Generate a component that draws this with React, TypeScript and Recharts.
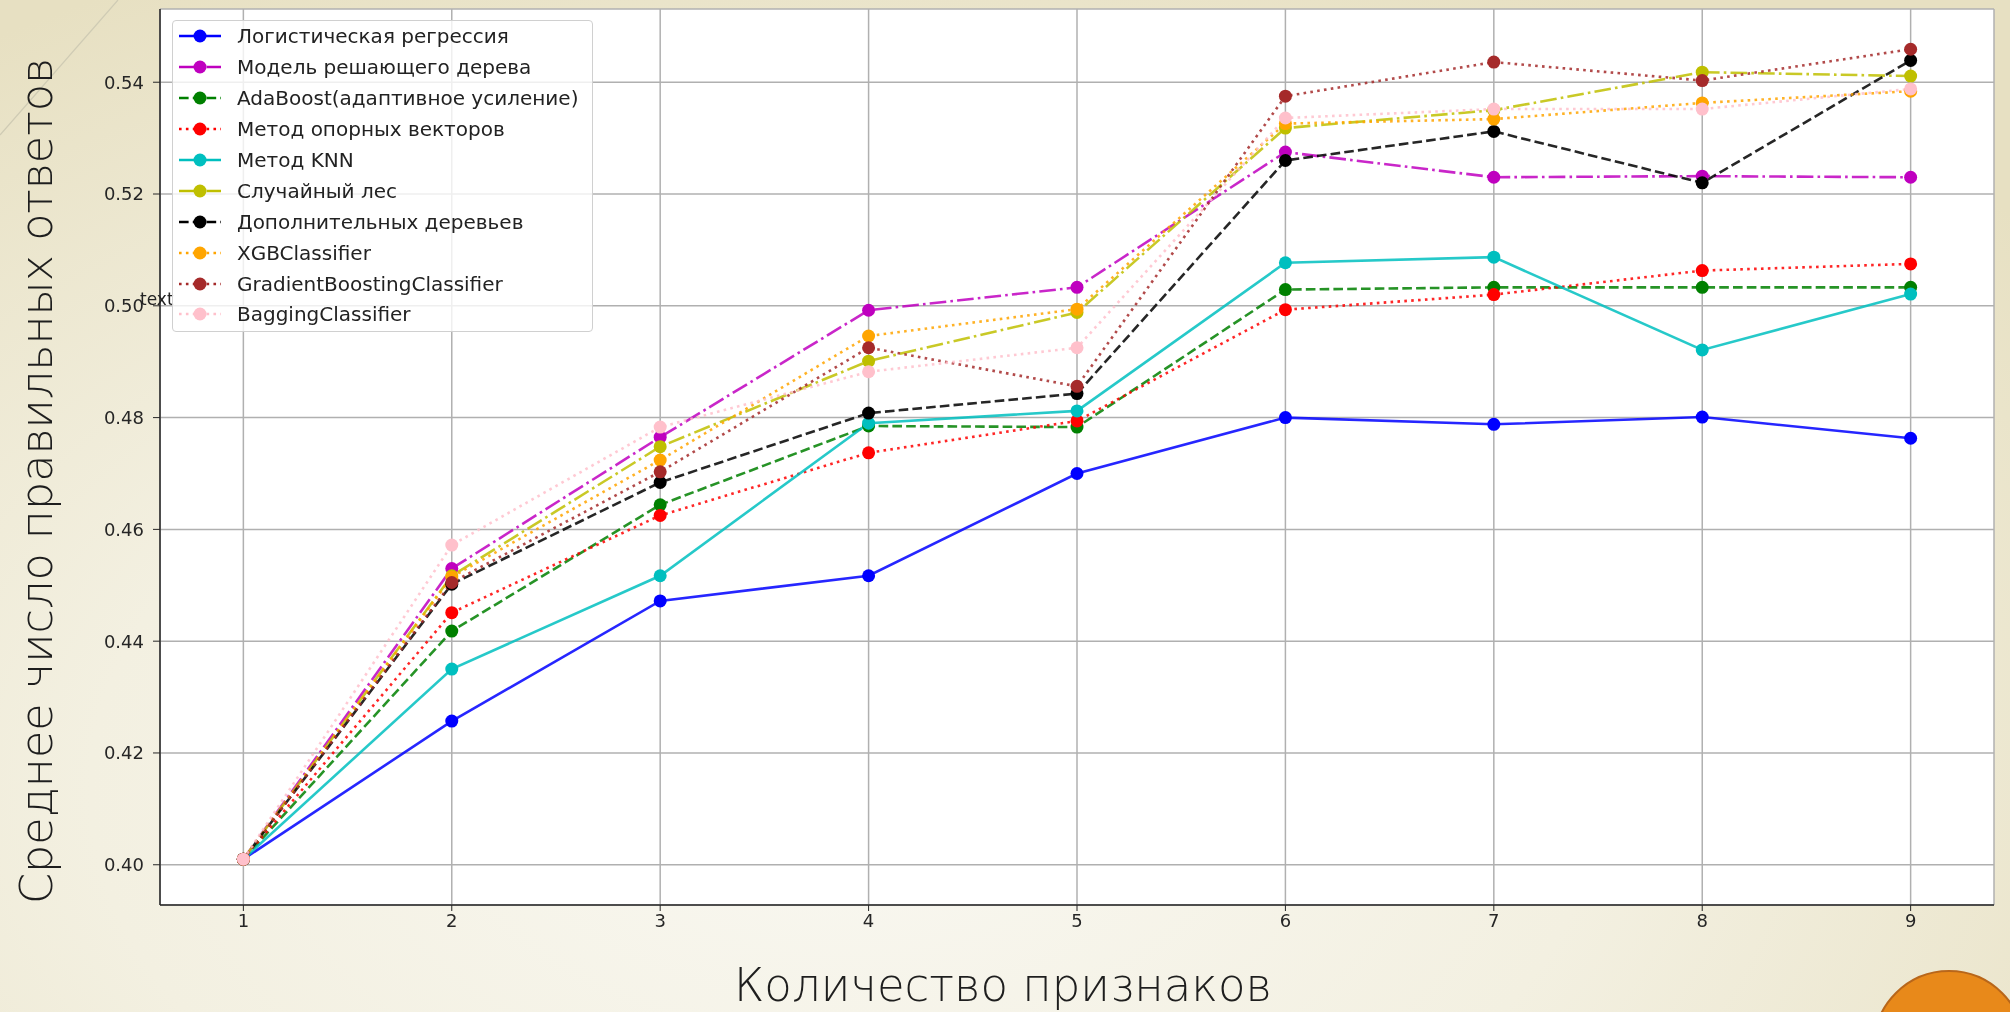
import React from 'react';
import {
  LineChart,
  Line,
  XAxis,
  YAxis,
  CartesianGrid,
} from 'recharts';

// количество признаков
const featureCounts = [1, 2, 3, 4, 5, 6, 7, 8, 9];

const logReg = [0.401, 0.4257, 0.4472, 0.4517, 0.47, 0.48, 0.4788, 0.4801, 0.4763];
const decisionTree = [0.401, 0.453, 0.4765, 0.4992, 0.5033, 0.5275, 0.523, 0.5232, 0.523];
const adaBoost = [0.401, 0.4418, 0.4644, 0.4785, 0.4783, 0.5029, 0.5033, 0.5033, 0.5033];
const svm = [0.401, 0.4451, 0.4625, 0.4737, 0.4794, 0.4993, 0.502, 0.5063, 0.5075];
const knn = [0.401, 0.435, 0.4517, 0.479, 0.4812, 0.5077, 0.5087, 0.4921, 0.5021];
const randomForest = [0.401, 0.4517, 0.4748, 0.4901, 0.4988, 0.5318, 0.535, 0.5418, 0.5411];
const extraTrees = [0.401, 0.4502, 0.4684, 0.4808, 0.4843, 0.526, 0.5312, 0.522, 0.5439];
const xgb = [0.401, 0.4515, 0.4724, 0.4946, 0.4994, 0.5326, 0.5334, 0.5363, 0.5384];
const gradBoost = [0.401, 0.4505, 0.4703, 0.4925, 0.4856, 0.5375, 0.5436, 0.5403, 0.5459];
const bagging = [0.401, 0.4572, 0.4783, 0.4882, 0.4925, 0.5336, 0.5352, 0.5352, 0.5388];

const xTicks = [1, 2, 3, 4, 5, 6, 7, 8, 9];
const yTicks = [0.4, 0.42, 0.44, 0.46, 0.48, 0.5, 0.52, 0.54];

const LW = 2.6;
const DASHED = `${3.7 * LW} ${1.6 * LW}`;
const DOTTED = `${1 * LW} ${1.65 * LW}`;
const DASHDOT = `${6.4 * LW} ${1.6 * LW} ${1 * LW} ${1.6 * LW}`;

const series = [
  { key: 'logReg', name: 'Логистическая регрессия', values: logReg, color: '#0000ff', dash: undefined },
  { key: 'tree', name: 'Модель решающего дерева', values: decisionTree, color: '#bf00bf', dash: DASHDOT },
  { key: 'ada', name: 'AdaBoost(адаптивное усиление)', values: adaBoost, color: '#008000', dash: DASHED },
  { key: 'svm', name: 'Метод опорных векторов', values: svm, color: '#ff0000', dash: DOTTED },
  { key: 'knn', name: 'Метод KNN', values: knn, color: '#00bfbf', dash: undefined },
  { key: 'rf', name: 'Случайный лес', values: randomForest, color: '#bfbf00', dash: DASHDOT },
  { key: 'et', name: 'Дополнительных деревьев', values: extraTrees, color: '#000000', dash: DASHED },
  { key: 'xgb', name: 'XGBClassifier', values: xgb, color: '#ffa500', dash: DOTTED },
  { key: 'gb', name: 'GradientBoostingClassifier', values: gradBoost, color: '#a52a2a', dash: DOTTED },
  { key: 'bag', name: 'BaggingClassifier', values: bagging, color: '#ffc0cb', dash: DOTTED },
];

const data = featureCounts.map((n, i) => {
  const row: Record<string, number> = { n };
  series.forEach((s) => {
    row[s.key] = s.values[i];
  });
  return row;
});

const tickStyle = { fontSize: 18, fill: '#262626', fontFamily: 'DejaVu Sans, sans-serif' };

function ChartLegend() {
  return (
    <div
      style={{
        position: 'absolute',
        left: 172,
        top: 20,
        width: 421,
        height: 312,
        background: 'rgba(255,255,255,0.8)',
        border: '1px solid #d0d0d0',
        borderRadius: 4,
        boxSizing: 'border-box',
        fontFamily: 'DejaVu Sans, sans-serif',
        fontSize: 20,
        color: '#222',
      }}
    >
      {series.map((s) => (
        <div key={s.key} style={{ height: 30.9, display: 'flex', alignItems: 'center' }}>
          <svg width={60} height={20} style={{ flex: 'none' }}>
            <line
              x1={6}
              x2={48}
              y1={10}
              y2={10}
              stroke={s.color}
              strokeWidth={LW}
              strokeDasharray={s.dash}
            />
            <circle cx={27} cy={10} r={6.5} fill={s.color} />
          </svg>
          <span style={{ marginLeft: 4, whiteSpace: 'nowrap' }}>{s.name}</span>
        </div>
      ))}
    </div>
  );
}

export default function App() {
  return (
    <div
      style={{
        position: 'fixed',
        left: 0,
        top: 0,
        width: 2010,
        height: 1012,
        overflow: 'hidden',
        background:
          'radial-gradient(ellipse 75% 90% at 42% 78%, #f9f8f2 0%, #f3f0e1 50%, #e7e0c2 100%)',
      }}
    >
      <svg width={2010} height={1012} style={{ position: 'absolute', left: 0, top: 0 }}>
        <line x1={118} y1={0} x2={0} y2={135} stroke="#cfcbb4" strokeWidth={1.2} />
        <circle cx={1949} cy={1046} r={75} fill="#e8891a" stroke="#b8661a" strokeWidth={2} />
      </svg>

      <div style={{ position: 'absolute', left: 0, top: 0 }}>
        <LineChart
          width={2010}
          height={1012}
          data={data}
          margin={{ top: 9, right: 16, bottom: 67, left: 100 }}
        >
          <CartesianGrid stroke="#b0b0b0" strokeWidth={1.5} fill="#ffffff" />
          <XAxis
            dataKey="n"
            type="number"
            domain={[0.6, 9.4]}
            ticks={xTicks}
            height={40}
            tick={tickStyle}
            tickSize={6}
            tickMargin={3}
            axisLine={{ stroke: '#262626', strokeWidth: 1.5 }}
            tickLine={{ stroke: '#262626' }}
          />
          <XAxis
            xAxisId="top"
            orientation="top"
            dataKey="n"
            type="number"
            domain={[0.6, 9.4]}
            height={0}
            tick={false}
            tickLine={false}
            axisLine={{ stroke: '#262626', strokeWidth: 1.5 }}
          />
          <YAxis
            type="number"
            domain={[0.3928, 0.5531]}
            ticks={yTicks}
            width={60}
            tick={tickStyle}
            tickSize={7}
            tickMargin={9}
            tickFormatter={(v: number) => v.toFixed(2)}
            axisLine={{ stroke: '#262626', strokeWidth: 1.5 }}
            tickLine={{ stroke: '#262626' }}
          />
          <YAxis
            yAxisId="right"
            orientation="right"
            type="number"
            domain={[0.3928, 0.5531]}
            width={0}
            tick={false}
            tickLine={false}
            axisLine={{ stroke: '#262626', strokeWidth: 1.5 }}
          />
          {series.map((s) => (
            <Line
              key={s.key}
              dataKey={s.key}
              name={s.name}
              type="linear"
              stroke={s.color}
              strokeOpacity={0.85}
              strokeWidth={LW}
              strokeDasharray={s.dash}
              dot={{ r: 6.5, fill: s.color, stroke: s.color, strokeWidth: 0, strokeOpacity: 1 }}
              isAnimationActive={false}
            />
          ))}
        </LineChart>
      </div>

      <svg width={2010} height={1012} style={{ position: 'absolute', left: 0, top: 0, pointerEvents: 'none' }}>
        <text x={140} y={305} fontSize={17} fill="#222" fontFamily="DejaVu Sans, sans-serif">
          text
        </text>
        <text
          transform="translate(52,481) rotate(-90)"
          textAnchor="middle"
          fontSize={44}
          fontWeight={200}
          fill="#1e1e1e"
          fontFamily="DejaVu Sans, sans-serif"
          textLength={846}
          lengthAdjust="spacingAndGlyphs"
        >
          Среднее число правильных ответов
        </text>
        <text
          x={1003}
          y={1001}
          textAnchor="middle"
          fontSize={46}
          fontWeight={200}
          fill="#1e1e1e"
          fontFamily="DejaVu Sans, sans-serif"
          textLength={538}
          lengthAdjust="spacingAndGlyphs"
        >
          Количество признаков
        </text>
      </svg>

      <ChartLegend />
    </div>
  );
}
